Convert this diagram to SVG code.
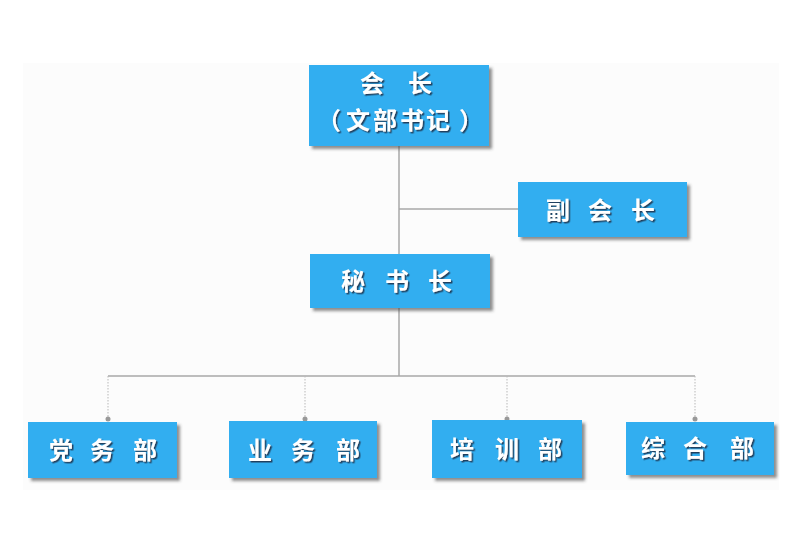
<svg xmlns="http://www.w3.org/2000/svg" width="808" height="559" viewBox="0 0 808 559">
<defs>
<filter id="bs" x="-10%" y="-10%" width="130%" height="140%"><feDropShadow dx="3" dy="3" stdDeviation="1.5" flood-color="#444" flood-opacity="0.6"/></filter>
<filter id="ts" x="-20%" y="-20%" width="150%" height="150%"><feDropShadow dx="1.5" dy="1.5" stdDeviation="0.6" flood-color="#1a3550" flood-opacity="0.9"/></filter>
</defs>
<style>
.box{fill:#33aef0;filter:url(#bs)}
.t{font-family:"Noto Sans CJK SC","Noto Sans CJK TC",sans-serif;font-weight:bold;font-size:24px;fill:#fff;text-anchor:middle;filter:url(#ts)}
.ln{stroke:#a8a8a8;stroke-width:1.5;fill:none}
.dl{stroke:#b8b8b8;stroke-width:1;stroke-dasharray:1.5 1.5;fill:none}
.dot{fill:#999}
</style>
<rect width="808" height="559" fill="#fff"/>
<rect x="23" y="63" width="756" height="427" fill="#fcfcfc"/>
<g id="connectors">
<path class="ln" d="M399 146 V376 M399 209 H518 M108 376 H695"/>
<path class="dl" d="M108 376 V419 M305 376 V419 M507 376 V419 M695 376 V419"/>
<circle class="dot" cx="108" cy="419" r="2.5"/>
<circle class="dot" cx="305" cy="419" r="2.5"/>
<circle class="dot" cx="507" cy="419" r="2.5"/>
<circle class="dot" cx="695" cy="419" r="2.5"/>
</g>
<g id="n_huizhang">
<rect class="box" x="309" y="65" width="180" height="81"/>
<text class="t" x="372 420" y="92">会长</text>
<text class="t" x="329 358 385 412 438 471" y="129">（文部书记）</text>
</g>
<g id="n_fuhuizhang">
<rect class="box" x="518" y="182" width="169" height="55"/>
<text class="t" x="558 600 643" y="219">副会长</text>
</g>
<g id="n_mishuzhang">
<rect class="box" x="310" y="254" width="180" height="54"/>
<text class="t" x="353 397 440" y="290">秘书长</text>
</g>
<g id="n_dangwu">
<rect class="box" x="28" y="422" width="149" height="56"/>
<text class="t" x="61 102 145" y="459">党务部</text>
</g>
<g id="n_yewu">
<rect class="box" x="229" y="421" width="148" height="57"/>
<text class="t" x="260 303 348" y="459">业务部</text>
</g>
<g id="n_peixun">
<rect class="box" x="432" y="420" width="150" height="58"/>
<text class="t" x="462 507 550" y="458">培训部</text>
</g>
<g id="n_zonghe">
<rect class="box" x="626" y="422" width="148" height="53"/>
<text class="t" x="653 695 742" y="457">综合部</text>
</g>
</svg>
